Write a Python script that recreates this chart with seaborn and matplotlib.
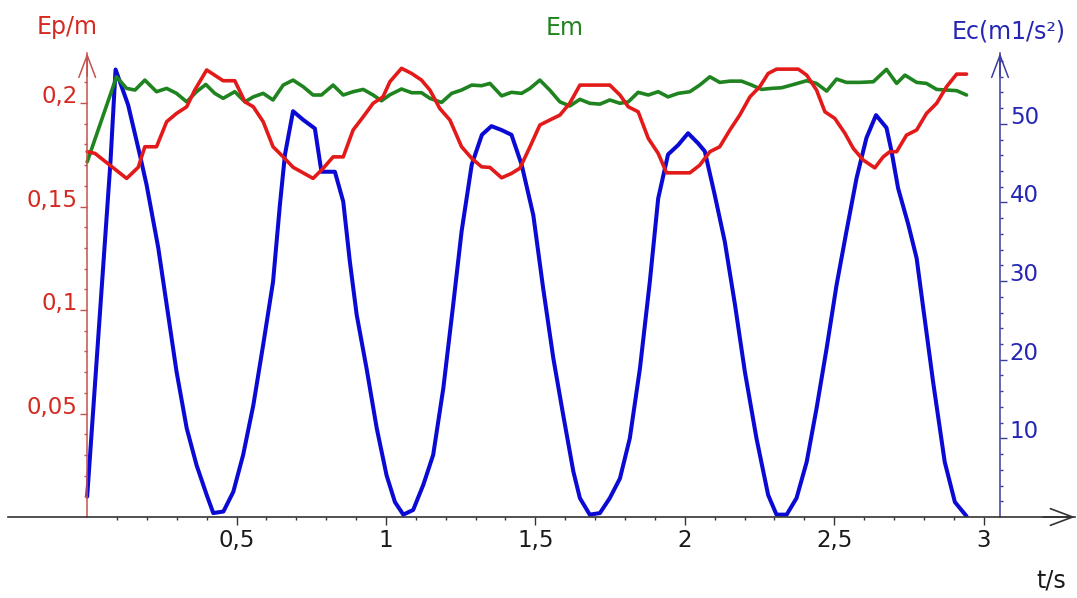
import numpy as np
import matplotlib
matplotlib.use("Agg")
import matplotlib.pyplot as plt
from matplotlib.ticker import FixedLocator
import seaborn as sns

# Ep/m (left axis, red)
t_ep = [0, 0.026, 0.132, 0.171, 0.193, 0.232, 0.266, 0.299, 0.333, 0.360,
        0.400, 0.455, 0.494, 0.528, 0.556, 0.589, 0.622, 0.656, 0.689, 0.756,
        0.790, 0.823, 0.857, 0.890, 0.924, 0.957, 0.990, 1.013, 1.052, 1.086,
        1.119, 1.147, 1.180, 1.214, 1.253, 1.287, 1.320, 1.348, 1.387, 1.420,
        1.448, 1.482, 1.515, 1.548, 1.582, 1.615, 1.649, 1.749, 1.783, 1.811,
        1.844, 1.878, 1.911, 1.939, 2.017, 2.050, 2.084, 2.117, 2.151, 2.184,
        2.218, 2.251, 2.279, 2.307, 2.380, 2.408, 2.441, 2.469, 2.502, 2.536,
        2.564, 2.597, 2.636, 2.664, 2.686, 2.709, 2.742, 2.776, 2.809, 2.843,
        2.876, 2.910, 2.943]
ep = [0.1765, 0.1757, 0.1636, 0.169, 0.1789, 0.1789, 0.191, 0.195, 0.1982, 0.2063,
      0.216, 0.2108, 0.2108, 0.2006, 0.1982, 0.191, 0.1789, 0.174, 0.169, 0.1636,
      0.1685, 0.174, 0.174, 0.187, 0.1934, 0.1999, 0.203, 0.2103, 0.2168, 0.2143,
      0.2111, 0.2063, 0.1974, 0.1918, 0.1789, 0.1733, 0.1692, 0.1689, 0.1639, 0.166,
      0.1685, 0.1789, 0.1894, 0.1918, 0.1942, 0.1999, 0.2087, 0.2087, 0.2039, 0.1982,
      0.1958, 0.1829, 0.1757, 0.1663, 0.1663, 0.170, 0.1765, 0.1789, 0.187, 0.1942,
      0.203, 0.2079, 0.2143, 0.2164, 0.2164, 0.2135, 0.2063, 0.1958, 0.1926, 0.1854,
      0.1781, 0.1725, 0.1687, 0.174, 0.1765, 0.1765, 0.1845, 0.187, 0.195, 0.1999,
      0.2079, 0.214, 0.214]

# Em (left axis, green)
t_em = [0, 0.098, 0.132, 0.160, 0.193, 0.232, 0.266, 0.299, 0.333, 0.366,
        0.397, 0.427, 0.455, 0.494, 0.528, 0.556, 0.589, 0.622, 0.656, 0.689,
        0.723, 0.756, 0.784, 0.823, 0.857, 0.890, 0.924, 0.957, 0.985, 1.013,
        1.052, 1.086, 1.119, 1.147, 1.186, 1.220, 1.253, 1.287, 1.320, 1.348,
        1.387, 1.420, 1.454, 1.482, 1.515, 1.548, 1.582, 1.615, 1.649, 1.682,
        1.716, 1.749, 1.783, 1.811, 1.844, 1.878, 1.911, 1.944, 1.978, 2.017,
        2.050, 2.084, 2.117, 2.151, 2.190, 2.224, 2.257, 2.290, 2.324, 2.357,
        2.408, 2.441, 2.475, 2.508, 2.541, 2.586, 2.631, 2.675, 2.709, 2.737,
        2.776, 2.809, 2.843, 2.876, 2.910, 2.943]
em = [0.1716, 0.2127, 0.2071, 0.2063, 0.2111, 0.2055, 0.2071, 0.2047, 0.2006, 0.2055,
      0.209, 0.2047, 0.2023, 0.2055, 0.2006, 0.203, 0.2047, 0.2015, 0.2087, 0.2111,
      0.2079, 0.2039, 0.2039, 0.2087, 0.2039, 0.2055, 0.2066, 0.2039, 0.2011, 0.204,
      0.2068, 0.205, 0.205, 0.2023, 0.2003, 0.2047, 0.2063, 0.2087, 0.2084, 0.2095,
      0.2035, 0.2052, 0.2047, 0.2071, 0.2111, 0.2063, 0.2006, 0.1986, 0.2018, 0.1999,
      0.1995, 0.2015, 0.1999, 0.2006, 0.2052, 0.2039, 0.2055, 0.203, 0.2047, 0.2055,
      0.2087, 0.2127, 0.21, 0.2106, 0.2106, 0.2087, 0.2066, 0.2071, 0.2074, 0.2087,
      0.2108, 0.2095, 0.2058, 0.2116, 0.21, 0.21, 0.2103, 0.2163, 0.2095, 0.2135,
      0.21, 0.2095, 0.2066, 0.2063, 0.206, 0.2039]

# Ec (right axis, blue)
t_ec = [0, 0.078, 0.095, 0.137, 0.176, 0.199, 0.238, 0.266, 0.299, 0.333,
        0.366, 0.400, 0.422, 0.456, 0.489, 0.522, 0.556, 0.589, 0.622, 0.645,
        0.662, 0.689, 0.723, 0.762, 0.784, 0.829, 0.857, 0.879, 0.902, 0.935,
        0.969, 1.002, 1.030, 1.058, 1.091, 1.125, 1.158, 1.192, 1.225, 1.253,
        1.287, 1.321, 1.353, 1.387, 1.420, 1.454, 1.493, 1.526, 1.560, 1.593,
        1.627, 1.649, 1.682, 1.716, 1.749, 1.783, 1.816, 1.850, 1.883, 1.911,
        1.944, 1.978, 2.011, 2.045, 2.067, 2.100, 2.134, 2.168, 2.201, 2.240,
        2.279, 2.307, 2.341, 2.374, 2.408, 2.441, 2.475, 2.508, 2.541, 2.575,
        2.608, 2.640, 2.675, 2.692, 2.714, 2.748, 2.776, 2.798, 2.831, 2.870,
        2.904, 2.943]
ec = [2.6, 45.2, 56.9, 52.4, 46.1, 42.2, 34.2, 27.0, 18.5, 11.3,
      6.6, 2.8, 0.5, 0.7, 3.2, 7.9, 14.2, 21.9, 29.9, 39.7,
      46.1, 51.6, 50.5, 49.4, 43.9, 43.9, 40.1, 32.5, 25.7, 18.9,
      11.3, 5.3, 1.9, 0.3, 0.9, 4.1, 7.9, 16.4, 27.0, 36.3,
      44.8, 48.6, 49.7, 49.2, 48.6, 44.8, 38.4, 29.1, 20.2, 13.0,
      5.8, 2.4, 0.3, 0.5, 2.4, 4.9, 10.0, 18.9, 29.9, 40.5,
      46.1, 47.3, 48.8, 47.5, 46.5, 41.0, 35.0, 27.0, 18.5, 10.0,
      2.8, 0.3, 0.3, 2.4, 7.0, 13.8, 21.5, 29.5, 36.3, 43.1,
      48.2, 51.1, 49.5, 46.5, 41.8, 37.2, 32.9, 26.6, 17.2, 7.0,
      1.9, 0.1]

x_ticks = [0.5, 1, 1.5, 2, 2.5, 3]
x_labels = ["0,5", "1", "1,5", "2", "2,5", "3"]
ep_ticks = [0.05, 0.1, 0.15, 0.2]
ep_labels = ["0,05", "0,1", "0,15", "0,2"]
ec_ticks = [10, 20, 30, 40, 50]
ec_labels = ["10", "20", "30", "40", "50"]

RED = "#e31a1a"
GREEN = "#1f831f"
BLUE = "#0a0ad4"
RED_AX = "#c4524e"
BLUE_AX = "#3c3ca0"
RED_TXT = "#d42a22"
BLUE_TXT = "#2626b4"

sns.set_theme(style="ticks")
plt.rcParams["font.family"] = ["DejaVu Sans"]
plt.rcParams["ytick.alignment"] = "baseline"

fig = plt.figure(figsize=(10.77, 5.98), dpi=100, facecolor="white")
ax = fig.add_axes([8 / 1077, 81 / 598, 1067 / 1077, 464 / 598])
ax2 = ax.twinx()
ax.set_zorder(ax2.get_zorder() + 1)
ax.patch.set_visible(False)

sns.lineplot(x=t_ec, y=ec, ax=ax2, color=BLUE, lw=2.9, sort=False, estimator=None)
sns.lineplot(x=t_em, y=em, ax=ax, color=GREEN, lw=2.6, sort=False, estimator=None)
sns.lineplot(x=t_ep, y=ep, ax=ax, color=RED, lw=2.6, sort=False, estimator=None)

x_right_axis = 3.055
ax.set_xlim(-0.265, 3.306)
ax.set_ylim(0, 0.2242)
ax2.set_ylim(0, 59.0)
for a in (ax, ax2):
    a.set_xlabel("")
    a.set_ylabel("")

# spines
ax.spines["top"].set_visible(False)
ax.spines["right"].set_visible(False)
ax.spines["left"].set_position(("data", 0))
ax.spines["left"].set_color(RED_AX)
ax.spines["left"].set_linewidth(1.1)
ax.spines["bottom"].set_color("#333333")
ax.spines["bottom"].set_linewidth(1.2)
for s in ("left", "top", "bottom"):
    ax2.spines[s].set_visible(False)
ax2.spines["right"].set_position(("data", x_right_axis))
ax2.spines["right"].set_color(BLUE_AX)
ax2.spines["right"].set_linewidth(1.1)

# ticks
minor_x = [round(0.1 * i, 1) for i in range(1, 30) if i % 5]
ax.xaxis.set_major_locator(FixedLocator(x_ticks))
ax.set_xticklabels(x_labels)
ax.xaxis.set_minor_locator(FixedLocator(minor_x))
ax.tick_params(axis="x", which="major", bottom=True, direction="out", length=5.5,
               width=1, color="#333333", labelsize=16.5, labelcolor="#1a1a1a", pad=3)
ax.tick_params(axis="x", which="minor", bottom=True, direction="out", length=2.5,
               width=1, color="#333333")

minor_ep = [round(0.01 * i, 2) for i in range(1, 22) if i % 5]
ax.yaxis.set_major_locator(FixedLocator(ep_ticks))
ax.set_yticklabels(ep_labels)
ax.yaxis.set_minor_locator(FixedLocator(minor_ep))
ax.tick_params(axis="y", which="major", left=True, direction="out", length=5,
               width=1, color=RED_AX, labelsize=16.5, labelcolor=RED_TXT, pad=2)
ax.tick_params(axis="y", which="minor", left=True, direction="out", length=2.3,
               width=1, color=RED_AX)

minor_ec = [2 * i for i in range(1, 30) if i % 5]
ax2.yaxis.set_major_locator(FixedLocator(ec_ticks))
ax2.set_yticklabels(ec_labels)
ax2.yaxis.set_minor_locator(FixedLocator(minor_ec))
ax2.tick_params(axis="y", which="major", right=True, direction="out", length=5,
                width=1, color=BLUE_AX, labelsize=16.5, labelcolor=BLUE_TXT, pad=2)
ax2.tick_params(axis="y", which="minor", right=True, direction="out", length=2.3,
                width=1, color=BLUE_AX)

# arrow heads on the axes
head = "->,head_length=16,head_width=6"
ax.annotate("", xy=(0, 1.0), xytext=(0, 0.95), xycoords=ax.get_xaxis_transform(),
            arrowprops=dict(arrowstyle=head, mutation_scale=1, color=RED_AX, lw=1.1,
                            shrinkA=0, shrinkB=0), annotation_clip=False)
ax2.annotate("", xy=(x_right_axis, 1.0), xytext=(x_right_axis, 0.95),
             xycoords=ax2.get_xaxis_transform(),
             arrowprops=dict(arrowstyle=head, mutation_scale=1, color=BLUE_AX, lw=1.1,
                             shrinkA=0, shrinkB=0), annotation_clip=False)
ax.annotate("", xy=(1.0, 0), xytext=(0.97, 0), xycoords=ax.get_yaxis_transform(),
            arrowprops=dict(arrowstyle=head, mutation_scale=1, color="#333333", lw=1.2,
                            shrinkA=0, shrinkB=0), annotation_clip=False)

# axis titles
fig.text(67 / 1077, 1 - 27 / 598, "Ep/m", color=RED_TXT, fontsize=17,
         ha="center", va="center")
fig.text(565 / 1077, 1 - 28 / 598, "Em", color=GREEN, fontsize=17,
         ha="center", va="center")
fig.text(1009 / 1077, 1 - 31 / 598, "Ec(m1/s²)", color=BLUE_TXT, fontsize=17,
         ha="center", va="center")
fig.text(1051 / 1077, 1 - 581 / 598, "t/s", color="#1a1a1a", fontsize=17,
         ha="center", va="center")

fig.savefig("out.png", dpi=100, facecolor="white")
